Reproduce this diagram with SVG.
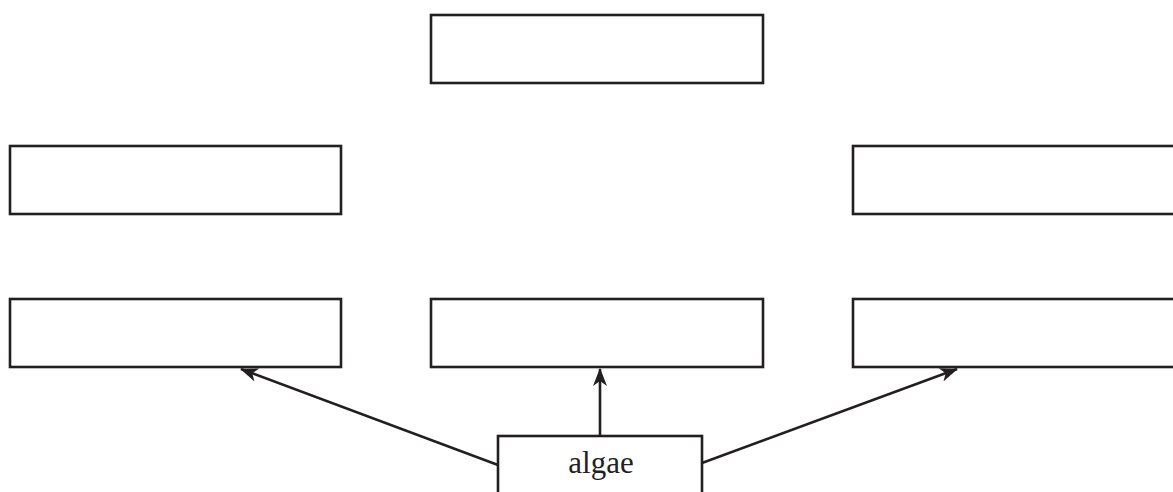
<svg xmlns="http://www.w3.org/2000/svg" width="1173" height="492" viewBox="0 0 1173 492">
  <style>
    .box { fill: #fff; stroke: #231f20; stroke-width: 2.6; }
    .link { fill: none; stroke: #231f20; stroke-width: 2.6; }
    .label { font-family: "Liberation Serif", "Times New Roman", serif; font-size: 31px; fill: #231f20; text-anchor: middle; }
  </style>
  <defs>
    <marker id="arrow" viewBox="0 0 18 14" refX="17" refY="7" markerWidth="18" markerHeight="14" markerUnits="userSpaceOnUse" orient="auto">
      <path d="M0,0 L18,7 L0,14 L5,7 Z" fill="#231f20"/>
    </marker>
  </defs>
  <rect width="1173" height="492" fill="#fff"/>

  <g id="connectors">
    <line class="link" x1="600" y1="436" x2="600" y2="369" marker-end="url(#arrow)"/>
    <line class="link" x1="498" y1="465" x2="241" y2="369" marker-end="url(#arrow)"/>
    <line class="link" x1="702" y1="463" x2="957" y2="369" marker-end="url(#arrow)"/>
  </g>

  <g id="top-center"><rect class="box" x="431" y="15" width="332" height="68"/></g>
  <g id="middle-left"><rect class="box" x="10" y="146" width="331" height="68"/></g>
  <g id="middle-right"><rect class="box" x="853" y="146" width="330" height="68"/></g>
  <g id="bottom-left"><rect class="box" x="10" y="299" width="331" height="68"/></g>
  <g id="bottom-center"><rect class="box" x="431" y="299" width="332" height="68"/></g>
  <g id="bottom-right"><rect class="box" x="853" y="299" width="330" height="68"/></g>
  <g id="algae">
    <rect class="box" x="498" y="436" width="204" height="70"/>
    <text class="label" x="601" y="473">algae</text>
  </g>
</svg>
